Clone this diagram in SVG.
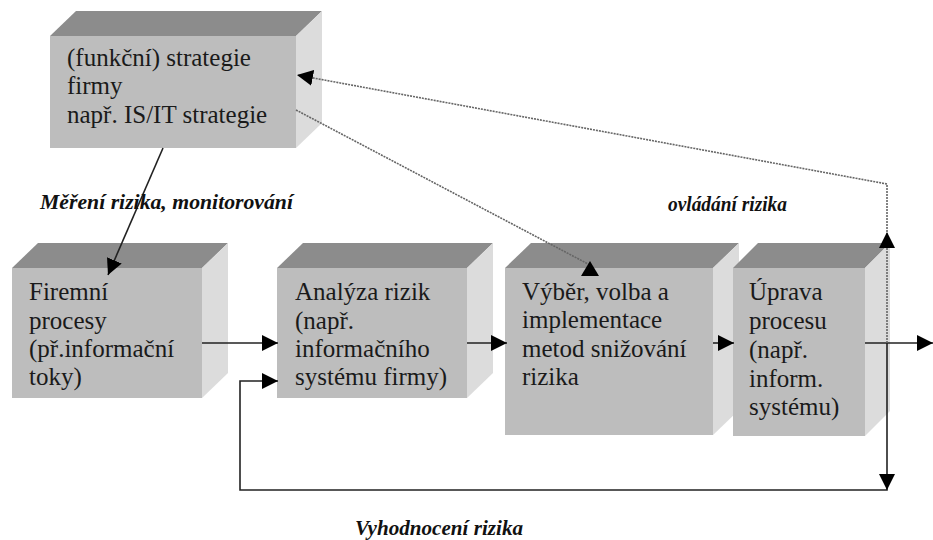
<svg xmlns="http://www.w3.org/2000/svg" width="933" height="540" viewBox="0 0 933 540">
<style>
.front{fill:#bdbdbd}
.top{fill:#8c8c8c}
.side{fill:#dcdcdc}
.t{font-family:'Liberation Serif','DejaVu Serif','Times New Roman',Times,serif;font-size:25px;fill:#1a1a1a}
.lbl{font-family:'Liberation Serif','DejaVu Serif','Times New Roman',Times,serif;font-size:21px;font-weight:bold;font-style:italic;fill:#111}
.solid{fill:none;stroke:#222;stroke-width:1.6}
.dot{fill:none;stroke:#666;stroke-width:1.6;stroke-dasharray:2 1}
.head{fill:#000}
</style>
<defs>
<marker id="arr" markerUnits="userSpaceOnUse" markerWidth="18" markerHeight="16" refX="16" refY="8" orient="auto">
<path d="M0,0 L16,8 L0,16 z" fill="#000"/>
</marker>
</defs>
<rect width="933" height="540" fill="#fff"/>

<g id="node-strategie">
<rect class="front" x="50" y="36" width="246" height="112"/>
<polygon class="top" points="50,36 76,11 322,11 296,36"/>
<polygon class="side" points="296,36 322,11 322,123 296,148"/>
<text class="t" x="67" y="66">(funkční) strategie</text>
<text class="t" x="67" y="94">firmy</text>
<text class="t" x="67" y="123">např. IS/IT strategie</text>
</g>

<g id="node-firemni">
<rect class="front" x="12" y="268" width="190" height="130"/>
<polygon class="top" points="12,268 38,243 228,243 202,268"/>
<polygon class="side" points="202,268 228,243 228,373 202,398"/>
<text class="t" x="29" y="300">Firemní</text>
<text class="t" x="29" y="329">procesy</text>
<text class="t" x="29" y="357">(př.informační</text>
<text class="t" x="29" y="385">toky)</text>
</g>

<g id="node-analyza">
<rect class="front" x="277" y="268" width="190" height="130"/>
<polygon class="top" points="277,268 303,243 493,243 467,268"/>
<polygon class="side" points="467,268 493,243 493,373 467,398"/>
<text class="t" x="295" y="300">Analýza rizik</text>
<text class="t" x="295" y="329">(např.</text>
<text class="t" x="295" y="357">informačního</text>
<text class="t" x="295" y="385">systému firmy)</text>
</g>

<g id="node-vyber">
<rect class="front" x="505" y="268" width="208" height="167"/>
<polygon class="top" points="505,268 531,243 739,243 713,268"/>
<polygon class="side" points="713,268 739,243 739,410 713,435"/>
<text class="t" x="522" y="300">Výběr, volba a</text>
<text class="t" x="522" y="328">implementace</text>
<text class="t" x="522" y="357">metod snižování</text>
<text class="t" x="522" y="385">rizika</text>
</g>

<g id="node-uprava">
<rect class="front" x="733" y="268" width="132" height="168"/>
<polygon class="top" points="733,268 758,243 890,243 865,268"/>
<polygon class="side" points="865,268 890,243 890,411 865,436"/>
<text class="t" x="749" y="300">Úprava</text>
<text class="t" x="749" y="329">procesu</text>
<text class="t" x="749" y="358">(např.</text>
<text class="t" x="749" y="387">inform.</text>
<text class="t" x="749" y="415">systému)</text>
</g>

<g id="connectors">
<path class="solid" d="M163,148 L108,275" marker-end="url(#arr)"/>
<path class="solid" d="M202,343 H278" marker-end="url(#arr)"/>
<path class="solid" d="M467,343 H507" marker-end="url(#arr)"/>
<path class="solid" d="M713,343 H734" marker-end="url(#arr)"/>
<path class="solid" d="M865,343 H933" marker-end="url(#arr)"/>
<path class="dot" d="M887,343 V184 L297,75" marker-end="url(#arr)"/>
<polygon class="head" points="887,232 879,248 895,248"/>
<path class="dot" d="M296,110 L590,265"/>
<polygon class="head" points="590,261 581,276 599,276"/>
<path class="solid" d="M887,343 V490 H240 V381 H278" marker-end="url(#arr)"/>
<polygon class="head" points="887,490 879,474 895,474"/>
</g>

<g id="labels">
<text class="lbl" x="40" y="209" textLength="253" lengthAdjust="spacingAndGlyphs">Měření rizika, monitorování</text>
<text class="lbl" x="668" y="211" textLength="119" lengthAdjust="spacingAndGlyphs">ovládání rizika</text>
<text class="lbl" x="355" y="535" textLength="168" lengthAdjust="spacingAndGlyphs">Vyhodnocení rizika</text>
</g>
</svg>
